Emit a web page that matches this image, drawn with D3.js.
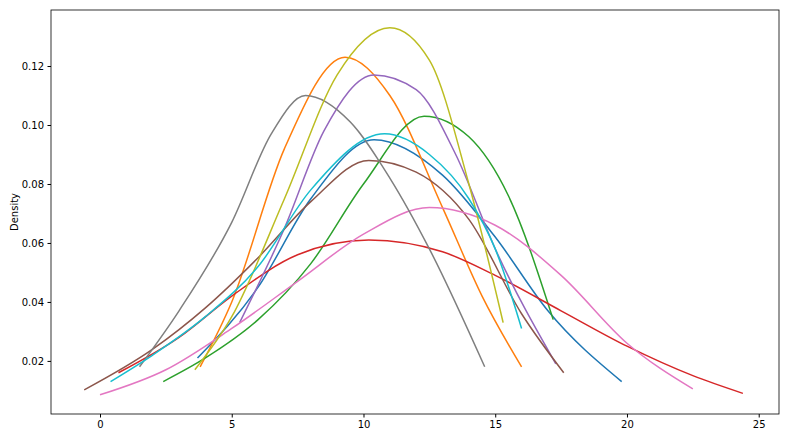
<!DOCTYPE html>
<html><head><meta charset="utf-8">
<script src="https://cdn.jsdelivr.net/npm/d3@7"></script>
<style>body{margin:0;background:#fff}text{font-family:"DejaVu Sans",sans-serif}</style>
</head><body><svg id="c" width="800" height="444"></svg>
<script>
// points, one pair of arrays per curve
const blueX = [3.7, 6, 8, 10.4, 13, 15, 17, 19.8]
const blueY = [.021, .045, .075, .095, .083, .062, .037, .013]
const orangeX = [3.8, 5, 7, 9.3, 11, 13, 14.5, 16]
const orangeY = [.018, .04, .092, .123, .110, .072, .042, .018]
const greenX = [2.4, 4, 6, 8, 10, 12.3, 14, 15.5, 17.2]
const greenY = [.013, .021, .034, .053, .08, .103, .096, .076, .034]
const redX = [0.7, 3, 5, 7.5, 10.2, 13, 15, 17.5, 20, 22.5, 24.4]
const redY = [.016, .028, .042, .056, .061, .057, .049, .037, .025, .015, .009]
const purpleX = [5.3, 7, 8.5, 10.4, 12, 13.5, 15, 17.3]
const purpleY = [.033, .065, .098, .117, .112, .090, .058, .019]
const brownX = [-0.6, 2, 4, 6, 8, 10.2, 12, 14, 16, 17.6]
const brownY = [.0102, .024, .038, .055, .074, .088, .084, .068, .036, .016]
const pinkX = [0, 2.5, 5, 7.5, 10, 12.5, 15, 17.5, 20, 22.5]
const pinkY = [.0085, .017, .031, .047, .063, .072, .066, .049, .026, .0105]
const grayX = [1.5, 3, 5, 6.5, 7.8, 9.5, 11, 12.5, 14.6]
const grayY = [.018, .037, .067, .097, .110, .101, .082, .058, .018]
const oliveX = [3.6, 5, 7, 9, 11, 12.5, 14, 15.3]
const oliveY = [.017, .035, .075, .117, .133, .122, .080, .033]
const cyanX = [0.4, 2, 4, 6, 8, 10.8, 12.5, 14, 15, 16]
const cyanY = [.013, .022, .035, .052, .078, .097, .090, .075, .058, .031]

const series = [
  [blueX, blueY, '#1f77b4'], [orangeX, orangeY, '#ff7f0e'], [greenX, greenY, '#2ca02c'],
  [redX, redY, '#d62728'], [purpleX, purpleY, '#9467bd'], [brownX, brownY, '#8c564b'],
  [pinkX, pinkY, '#e377c2'], [grayX, grayY, '#7f7f7f'], [oliveX, oliveY, '#bcbd22'],
  [cyanX, cyanY, '#17becf']
]
const xTicks = [0, 5, 10, 15, 20, 25]
const yTicks = [0.02, 0.04, 0.06, 0.08, 0.10, 0.12]

const svg = d3.select('#c')
const margin = {top: 10, right: 21, bottom: 30, left: 51}
const width = 800, height = 444

const x = d3.scaleLinear().domain([-1.86, 25.77]).range([margin.left, width - margin.right])
const y = d3.scaleLinear().domain([0.002, 0.139]).range([height - margin.bottom, margin.top])

const line = d3.line().x(d => x(d[0])).y(d => y(d[1])).curve(d3.curveMonotoneX)

series.forEach(([xs, ys, color]) => {
  svg.append('path')
    .datum(xs.map((v, i) => [v, ys[i]]))
    .attr('fill', 'none')
    .attr('stroke', color)
    .attr('stroke-width', 1.5)
    .attr('d', line)
})

svg.append('g')
  .attr('transform', `translate(0, ${height - margin.bottom})`)
  .call(d3.axisBottom(x).tickValues(xTicks).tickSize(3.5).tickPadding(3.5))
svg.append('g')
  .attr('transform', `translate(${margin.left}, 0)`)
  .call(d3.axisLeft(y).tickValues(yTicks).tickFormat(d3.format('.2f')).tickSize(3.5).tickPadding(3.5))
svg.selectAll('.tick text').attr('font-size', 10).attr('font-family', 'DejaVu Sans').attr('fill', '#000')
svg.selectAll('.domain').remove()

svg.append('rect')
  .attr('x', margin.left).attr('y', margin.top)
  .attr('width', width - margin.left - margin.right)
  .attr('height', height - margin.top - margin.bottom)
  .attr('fill', 'none').attr('stroke', '#000').attr('stroke-width', 0.8)

svg.append('text')
  .attr('transform', `translate(18, ${(margin.top + height - margin.bottom) / 2}) rotate(-90)`)
  .attr('text-anchor', 'middle')
  .attr('font-size', 10)
  .text('Density')
</script></body></html>
